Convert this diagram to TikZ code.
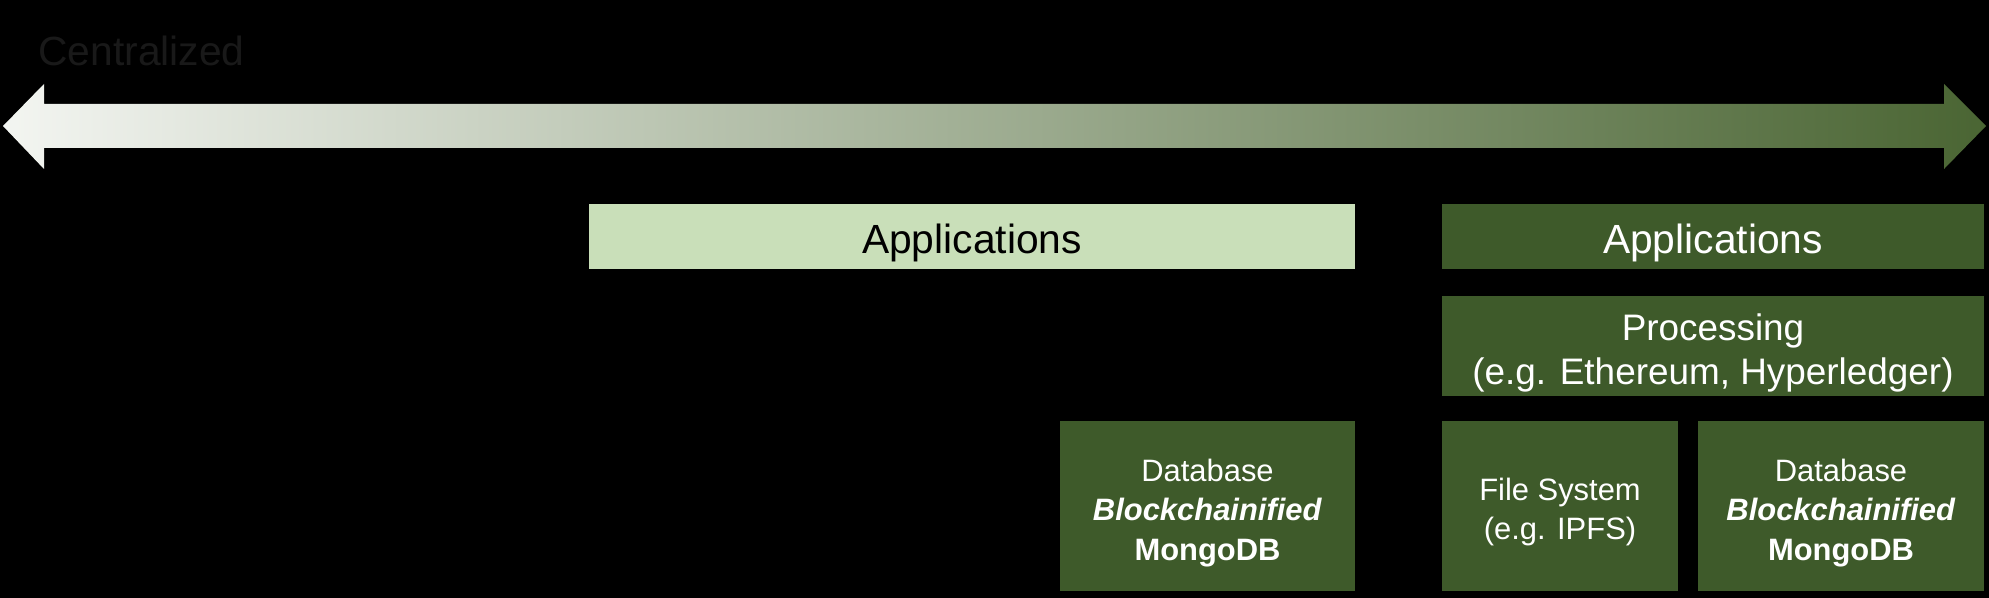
\documentclass[tikz,border=0pt]{standalone}
\usepackage{fontspec}
\setmainfont{Liberation Sans}
\usepackage{xcolor}

\definecolor{darkgrn}{HTML}{3E5A2A}
\definecolor{lightgrn}{HTML}{C9DFB9}
\definecolor{arrowlo}{HTML}{F3F5F1}
\definecolor{arrowhi}{HTML}{4A6533}

\begin{document}
\begin{tikzpicture}[x=0.02cm,y=-0.02cm,
  every node/.style={align=center,inner sep=0pt},
  bigtxt/.style={font=\fontsize{23.2}{28}\selectfont},
  midtxt/.style={font=\fontsize{21}{25}\selectfont},
  smalltxt/.style={font=\fontsize{17.6}{22.3}\selectfont}]
% background
\fill[black] (0,0) rectangle (1989,598);
\node[anchor=base west,bigtxt,text=black!90!white] (ctr) at (38,66) {Centralized};
% double arrow
\shade[left color=arrowlo,right color=arrowhi]
  (3,126) -- (44,84) -- (44,104) -- (1944,104) -- (1944,84) -- (1986,126)
  -- (1944,169) -- (1944,148) -- (44,148) -- (44,169) -- cycle;
% centralized stack
\fill[lightgrn] (589,204) rectangle (1355,269);
\node[bigtxt,text=black] (appC) at (972,243) {Applications};
\fill[darkgrn] (1060,421) rectangle (1355,591);
\node[smalltxt,text=white] (dbC) at (1207.5,513) {Database\\\textbf{\textit{Blockchainified}}\\\textbf{MongoDB}};
% decentralized stack
\fill[darkgrn] (1442,204) rectangle (1984,269);
\node[bigtxt,text=white] (appD) at (1713,243) {Applications};
\fill[darkgrn] (1442,296) rectangle (1984,396);
\node[midtxt,text=white] (proc) at (1713,353) {Processing\\(e.g. Ethereum, Hyperledger)};
\fill[darkgrn] (1442,421) rectangle (1678,591);
\node[smalltxt,text=white] (fs) at (1560,512) {File System\\(e.g. IPFS)};
\fill[darkgrn] (1698,421) rectangle (1984,591);
\node[smalltxt,text=white] (dbD) at (1841,513) {Database\\\textbf{\textit{Blockchainified}}\\\textbf{MongoDB}};
\end{tikzpicture}
\end{document}
